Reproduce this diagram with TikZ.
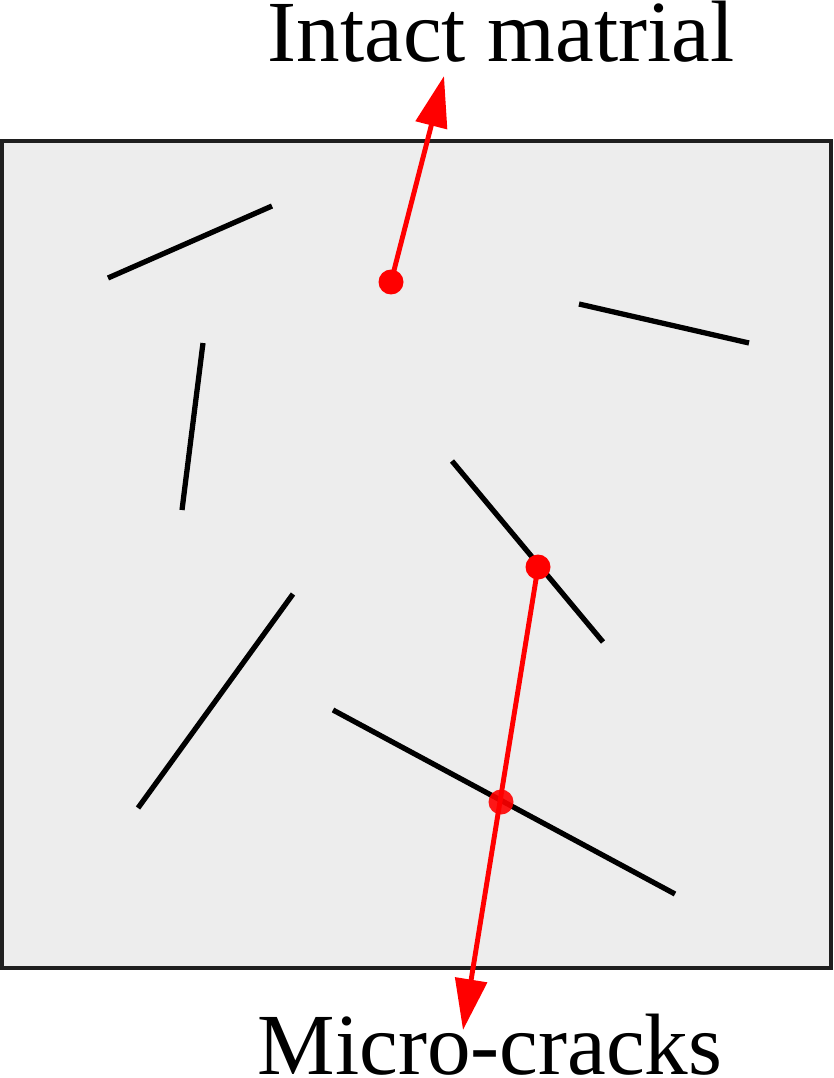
\documentclass[tikz,border=0pt]{standalone}
\usepackage{fontspec}
\setmainfont{Liberation Serif}
\usetikzlibrary{arrows.meta}

\begin{document}
\begin{tikzpicture}[x=0.02cm,y=-0.02cm,
  crack/.style={line width=3pt},
  pointer/.style={red,line width=2.8pt,-{Triangle[length=29pt,width=18pt]}},
  spot/.style={circle,fill=red,inner sep=0pt,minimum size=0.5cm},
  textlabel/.style={anchor=base,inner sep=0pt,font=\fontsize{49.6}{55}\selectfont}]
\useasboundingbox (0,0) rectangle (833,1078);
% Specimen block
\draw[line width=2.2pt,draw=black!88,fill=black!7] (2,141) rectangle (831,968);
% Micro-cracks
\draw[crack] (108,278) -- (272,206);
\draw[crack] (579,304) -- (749,343);
\draw[crack] (203,343) -- (182,510);
\draw[crack] (452,461) -- (603,642);
\draw[crack] (293,594) -- (138,808);
\draw[crack] (333,710) -- (675,894);
% Labels
\node[textlabel] (intact) at (501,62) {Intact matrial};
\node[textlabel] (cracks) at (490,1074) {Micro-cracks};
% Pointer to the intact material
\coordinate (tip1) at (444,76);
\draw[pointer] (391,282) coordinate (p1) -- (tip1);
\node[spot] (dot1) at (p1) {};
% Pointer to the micro-cracks
\coordinate (tip2) at (463,1030);
\draw[pointer] (538,567) coordinate (p2) -- (tip2);
\node[spot] (dot2) at (p2) {};
\node[spot,opacity=.9] (dot3) at (501,802) {};
\end{tikzpicture}
\end{document}
